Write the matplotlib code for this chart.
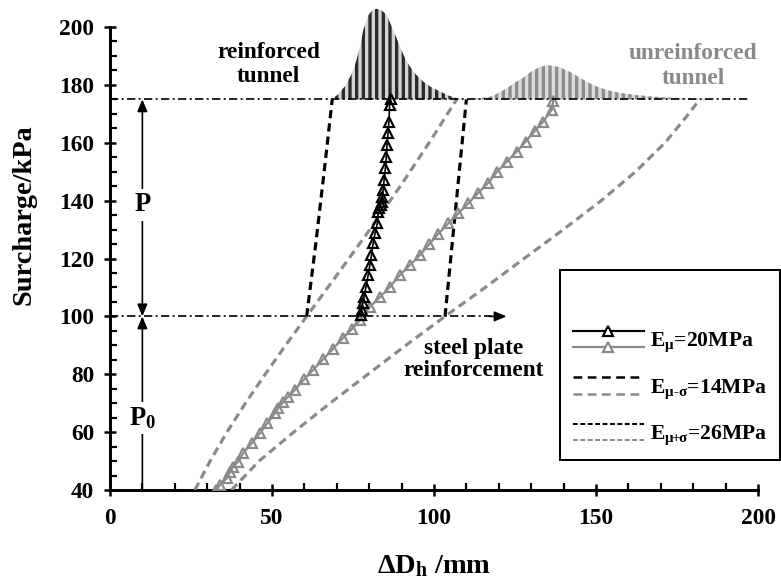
import matplotlib
matplotlib.use('Agg')
import matplotlib.pyplot as plt
from matplotlib.legend_handler import HandlerBase
from matplotlib.lines import Line2D
from matplotlib.ticker import MultipleLocator

plt.rcParams.update({'font.family': 'Liberation Serif', 'font.weight': 'bold',
                     'axes.labelweight': 'bold',
                     'mathtext.fontset': 'custom',
                     'mathtext.rm': 'Liberation Serif:bold',
                     'mathtext.it': 'Liberation Serif:bold',
                     'mathtext.bf': 'Liberation Serif:bold',
                     'hatch.linewidth': 2.0})

GREY = '#8a8a8a'

## unreinforced, E_mu (grey triangles)
unr_mu_x = [32.6, 33.9, 36.0, 37.0, 38.0, 39.6, 41.1, 43.7, 46.3, 48.5, 50.9, 51.9, 53.5, 55.0, 57.1,
            59.9, 62.7, 65.8, 68.7, 71.8, 74.6, 77.2, 80.2, 83.3, 86.4, 89.5, 92.6, 95.7, 98.6, 101.3,
            104.4, 107.5, 110.6, 113.7, 116.8, 119.5, 122.4, 125.5, 128.3, 131.2, 133.7, 136.3, 136.8]
unr_mu_y = [40.0, 41.7, 44.0, 46.3, 48.1, 49.8, 52.7, 56.1, 59.6, 63.0, 66.5, 68.2, 70.5, 72.2, 74.6,
            78.2, 81.5, 85.2, 88.6, 92.4, 95.5, 98.7, 103.3, 106.6, 110.2, 114.3, 117.7, 121.2, 125.0, 128.5,
            132.1, 135.6, 139.1, 142.7, 146.2, 150.0, 153.4, 156.9, 160.4, 164.2, 167.3, 171.3, 174.5]

## reinforced, E_mu (black triangles)
rei_mu_x = [77.4, 77.7, 78.0, 78.4, 79.0, 79.7, 80.2, 80.7, 81.2, 81.8, 82.5, 82.8, 83.1, 83.5, 83.8,
            84.1, 84.3, 84.6, 85.0, 85.3, 85.5, 85.8, 86.1, 86.3, 86.6]
rei_mu_y = [100.5, 102.2, 104.5, 106.8, 110.2, 114.3, 117.7, 121.2, 125.2, 128.7, 132.1, 136.2, 137.3,
            138.5, 139.6, 141.4, 143.7, 147.1, 151.2, 155.2, 159.2, 163.3, 167.3, 173.0, 175.0]

## unreinforced, E_mu+sigma = 26MPa (left grey dashed)
unr_hi_x = [26.2, 30.9, 36.1, 41.8, 47.9, 54.2, 60.7, 70.5, 80.2, 89.6, 98.5, 107.0]
unr_hi_y = [40.0, 50.0, 60.0, 70.0, 80.0, 90.0, 100.0, 115.0, 130.0, 145.0, 160.0, 175.0]

## unreinforced, E_mu-sigma = 14MPa (right grey dashed)
unr_lo_x = [37.5, 46.0, 56.7, 67.9, 79.6, 91.3, 103.4, 115.8, 127.8, 139.9, 151.6, 162.2, 171.3,
            178.6, 182.0]
unr_lo_y = [40.0, 50.0, 60.0, 70.0, 80.0, 90.0, 100.0, 110.0, 120.0, 130.0, 140.0, 150.0, 160.0,
            170.0, 175.0]

## reinforced, E_mu+sigma / E_mu-sigma (black dashed)
rei_hi_x = [60.7, 63.5, 66.1, 68.6]
rei_hi_y = [100.0, 125.0, 150.0, 175.0]
rei_lo_x = [103.4, 105.6, 107.8, 110.0]
rei_lo_y = [100.0, 125.0, 150.0, 175.0]

## distributions sitting on the 175 kPa line
pdf_rei_x = [68.4, 70.5, 72.5, 74.5, 76.1, 77.3, 78.2, 79.7, 81.0, 82.3, 83.8, 85.4, 87.4, 89.5, 91.0,
             92.6, 94.5, 96.7, 99.0, 101.9, 104.5, 107.0, 109.0]
pdf_rei_y = [175.0, 176.8, 179.5, 183.5, 188.6, 194.0, 199.0, 204.0, 205.8, 206.3, 205.8, 204.1, 199.0,
             193.2, 189.3, 186.3, 183.5, 181.1, 179.3, 177.7, 176.3, 175.4, 175.0]
pdf_unr_x = [110.0, 113.5, 117.3, 120.0, 122.4, 125.0, 127.6, 130.0, 132.7, 135.3, 138.5, 142.0, 144.5,
             147.1, 150.0, 153.3, 157.0, 162.5, 167.0, 172.8, 178.0, 184.2, 188.0]
pdf_unr_y = [175.0, 175.3, 175.9, 177.2, 178.8, 180.8, 182.5, 184.6, 186.2, 186.8, 186.2, 184.5, 182.8,
             181.1, 179.5, 178.2, 177.3, 176.5, 176.0, 175.6, 175.3, 175.1, 175.0]

P0_LOAD = 100
P_LOAD = 175

legend_labels = [r'E$_{\mathrm{μ}}$=20MPa',
                 r'E$_{\mathrm{μ‐σ}}$=14MPa',
                 r'E$_{\mathrm{μ}\!\!+\!\!\mathrm{σ}}$=26MPa']


class Pair(object):
    def __init__(self, top, bottom):
        self.top = top
        self.bottom = bottom


class HandlerPair(HandlerBase):
    # two lines stacked in one legend entry (reinforced on top, unreinforced below)
    def __init__(self, gap=5.0, **kw):
        HandlerBase.__init__(self, **kw)
        self.gap = gap

    def create_artists(self, legend, orig_handle, xdescent, ydescent, width, height, fontsize, trans):
        ymid = height / 2. - ydescent
        out = []
        for st, dy in ((orig_handle.top, self.gap), (orig_handle.bottom, -self.gap)):
            st = dict(st)
            marker = st.pop('marker', None)
            ms = st.pop('ms', 6)
            ln = Line2D([-xdescent, -xdescent + width], [ymid + dy, ymid + dy], **st)
            ln.set_transform(trans)
            out.append(ln)
            if marker is not None:
                mk = Line2D([-xdescent + width / 2.], [ymid + dy], marker=marker, ms=ms,
                            mfc='white', mec=st['color'], mew=1.3, ls='none')
                mk.set_transform(trans)
                out.append(mk)
        return out


fig = plt.figure(figsize=(781 / 120., 587 / 120.), dpi=120)
ax = fig.add_axes([0.1408, 0.1652, 0.8298, 0.7888])

dash_big = (2.6, 1.6)
dashdot = (5.0, 2.0, 1.2, 2.0)

# distributions
ax.fill_between(pdf_rei_x, P_LOAD, pdf_rei_y, facecolor='#d4d4d4', edgecolor='#2a2a2a', hatch='|||',
                linewidth=0, clip_on=False, zorder=1)
ax.fill_between(pdf_unr_x, P_LOAD, pdf_unr_y, facecolor='#dcdcdc', edgecolor='#8c8c8c', hatch='|||',
                linewidth=0, clip_on=False, zorder=1)

# curves
ax.plot(unr_hi_x, unr_hi_y, color=GREY, lw=1.9, dashes=dash_big, zorder=3)
ax.plot(unr_lo_x, unr_lo_y, color=GREY, lw=1.9, dashes=dash_big, zorder=3)
ax.plot(rei_hi_x, rei_hi_y, color='k', lw=1.9, dashes=dash_big, zorder=3)
ax.plot(rei_lo_x, rei_lo_y, color='k', lw=1.9, dashes=dash_big, zorder=3)
ax.plot(unr_mu_x, unr_mu_y, color=GREY, lw=1.3, marker='^', ms=6, mfc='none', mec=GREY, mew=1.3, zorder=4)
ax.plot(rei_mu_x, rei_mu_y, color='k', lw=1.0, marker='^', ms=6, mfc='none', mec='k', mew=1.3, zorder=5)

# load levels
ax.plot([0, 197.5], [P_LOAD, P_LOAD], color='k', lw=1.0, dashes=dashdot, zorder=6)
ax.plot([0, 118], [P0_LOAD, P0_LOAD], color='k', lw=1.0, dashes=dashdot, zorder=6)
ax.annotate('', xy=(122.4, P0_LOAD), xytext=(117, P0_LOAD),
            arrowprops=dict(arrowstyle='-|>,head_length=0.6,head_width=0.25', color='k', lw=1.0,
                            shrinkA=0, shrinkB=0), zorder=6)

ax.annotate('', xy=(10, P_LOAD), xytext=(10, P0_LOAD),
            arrowprops=dict(arrowstyle='<|-|>,head_length=0.6,head_width=0.25', color='k', lw=1.0,
                            shrinkA=0, shrinkB=0))
ax.annotate('', xy=(10, P0_LOAD), xytext=(10, 40),
            arrowprops=dict(arrowstyle='-|>,head_length=0.6,head_width=0.25', color='k', lw=1.0,
                            shrinkA=0, shrinkB=0))
ax.text(10, 138.5, 'P', fontsize=16, ha='center', va='center',
        bbox=dict(fc='white', ec='none', pad=2))
ax.text(10, 65, r'P$_{\mathrm{0}}$', fontsize=16, ha='center', va='center',
        bbox=dict(fc='white', ec='none', pad=2))

ax.text(49, 187.0, 'reinforced\ntunnel', fontsize=14, ha='center', va='center', linespacing=1.2)
ax.text(180, 186.5, 'unreinforced\ntunnel', fontsize=14, ha='center', va='center', linespacing=1.2,
        color=GREY)
ax.text(112.3, 85, 'steel plate\nreinforcement', fontsize=14, ha='center', va='center', linespacing=1.05)

# axes
ax.set_xlim(0, 200)
ax.set_ylim(40, 200)
ax.xaxis.set_major_locator(MultipleLocator(50))
ax.xaxis.set_minor_locator(MultipleLocator(10))
ax.yaxis.set_major_locator(MultipleLocator(20))
ax.yaxis.set_minor_locator(MultipleLocator(5))
for side in ['top', 'right']:
    ax.spines[side].set_visible(False)
for side in ['left', 'bottom']:
    ax.spines[side].set_linewidth(1.8)
ax.tick_params(which='major', direction='inout', length=7, width=1.5, labelsize=14, pad=6)
ax.tick_params(which='minor', direction='in', length=4, width=1.3)
ax.tick_params(axis='x', which='major', pad=7)

ax.set_xlabel(r'ΔD$_{\mathrm{h}}$ /mm', fontsize=17, labelpad=15)
ax.set_ylabel('Surcharge/kPa', fontsize=17)
ax.yaxis.set_label_coords(-0.113, 0.595)

# legend
h1 = Pair(dict(color='k', lw=1.3, marker='^', ms=6), dict(color=GREY, lw=1.3, marker='^', ms=6))
h2 = Pair(dict(color='k', lw=1.5, dashes=(3.5, 2.2)), dict(color=GREY, lw=1.5, dashes=(3.5, 2.2)))
h3 = Pair(dict(color='k', lw=1.2, dashes=(2.4, 1.3)), dict(color=GREY, lw=1.2, dashes=(2.4, 1.3)))
leg = ax.legend([h1, h2, h3], legend_labels, handler_map={Pair: HandlerPair(gap=5.0)},
                loc='lower left', bbox_to_anchor=(0.694, 0.065), borderaxespad=0,
                fontsize=13, handlelength=3.3, handleheight=1.6, labelspacing=0.8,
                handletextpad=0.25, borderpad=0.6, fancybox=False, framealpha=1, edgecolor='k',
                title=' ', title_fontsize=16)
leg.get_frame().set_linewidth(1.2)
leg.set_zorder(10)

fig.savefig('out.png', dpi=120)
